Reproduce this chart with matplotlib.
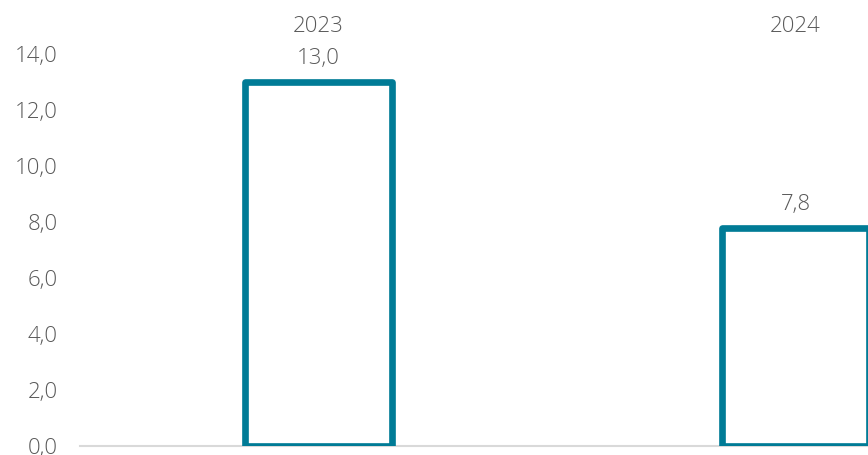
import matplotlib
matplotlib.use('agg')
import matplotlib.pyplot as plt
import numpy as np

plt.rcParams['font.family'] = ['Open Sans', 'DejaVu Sans']

years = ["2023", "2024"]
values = [13.0, 7.8]
yticks = [0, 2, 4, 6, 8, 10, 12, 14]

teal = "#007B96"
grey = "#595959"

fig = plt.figure(figsize=(8.68, 4.55), dpi=100)
# right side of the plot is cut off in the original, so the axes run past the figure edge
ax = fig.add_axes([80/868, 9/455, 954/868, 392/455])

x = np.arange(len(years))
ax.bar(x, values, width=0.31, facecolor="white", edgecolor=teal, linewidth=4.8,
       joinstyle="round", zorder=3)

ax.set_xlim(-0.5, 1.5)
ax.set_ylim(0, 14)
ax.set_yticks(yticks)
ax.set_yticklabels([("%.1f" % t).replace(".", ",") for t in yticks],
                   fontsize=16, color=grey, fontweight="light")
ax.tick_params(axis="y", length=0, pad=16)

ax.xaxis.tick_top()
ax.set_xticks(x)
ax.set_xticklabels(years, fontsize=16, color=grey, fontweight="light")
ax.tick_params(axis="x", length=0, pad=12)

for s in ["top", "right", "left"]:
    ax.spines[s].set_visible(False)
ax.spines["bottom"].set_color("#D9D9D9")
ax.spines["bottom"].set_linewidth(1.5)

for xi, v in zip(x, values):
    ax.annotate(("%.1f" % v).replace(".", ","), (xi, v), xytext=(0, 9),
                textcoords="offset points", ha="center", va="bottom",
                fontsize=16, color=grey, fontweight="light")

fig.savefig("out.png", dpi=100)
